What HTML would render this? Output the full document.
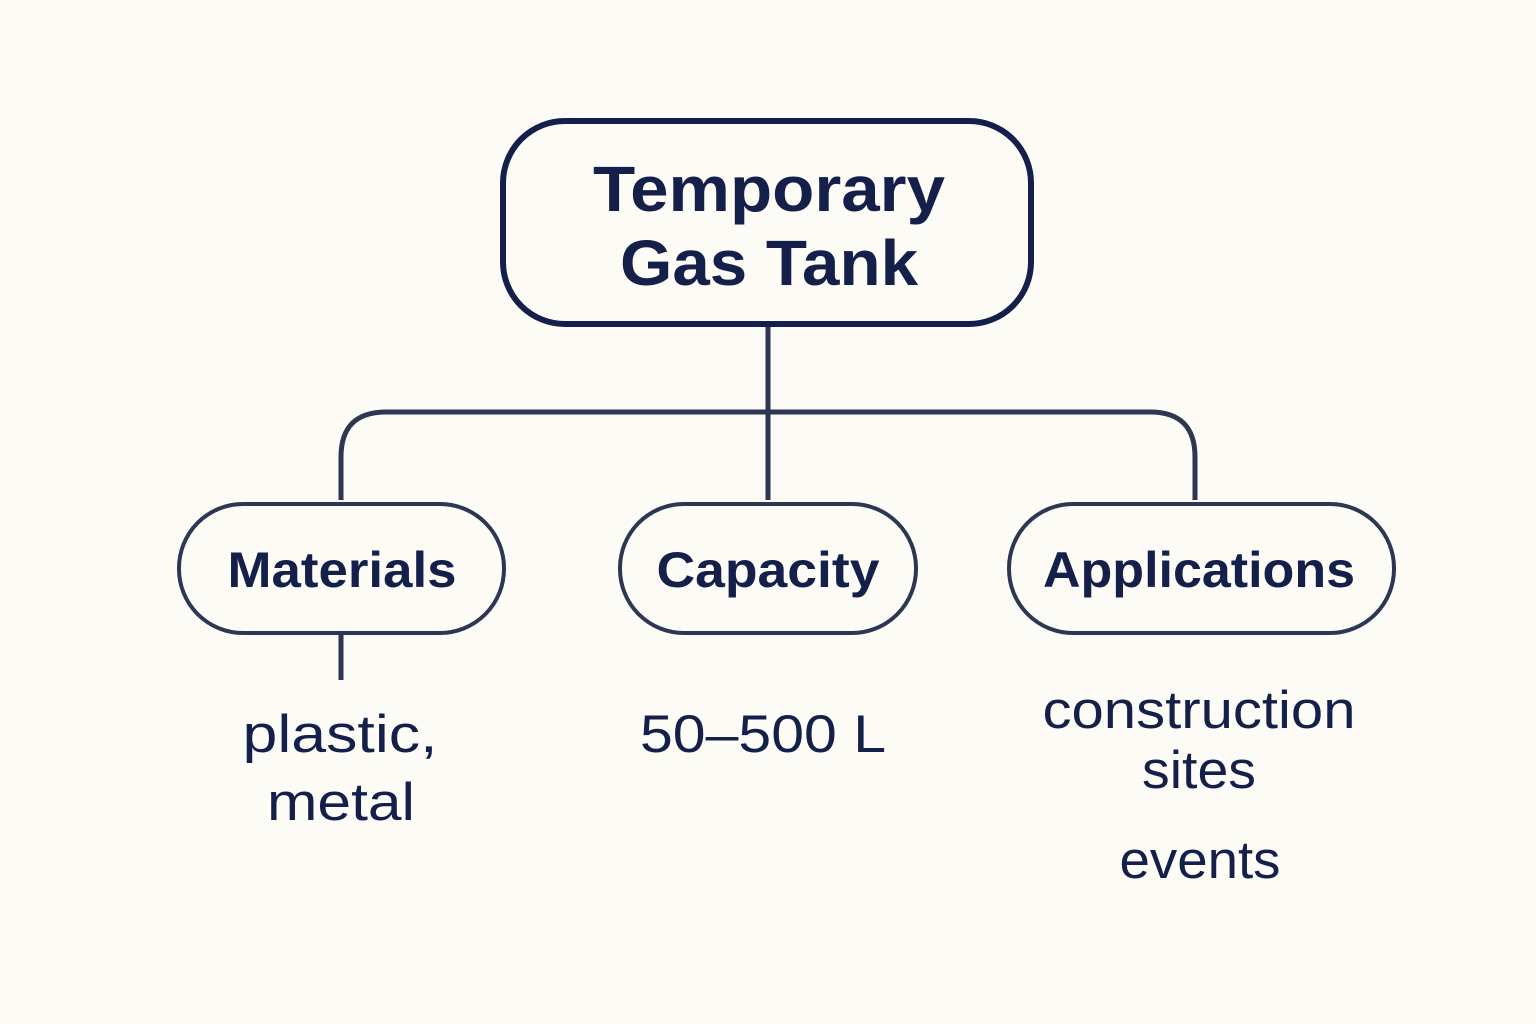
<!DOCTYPE html>
<html><head><meta charset="utf-8"><style>
html,body{margin:0;padding:0;background:#fcfbf6;}
svg{display:block}
text{font-family:"Liberation Sans","DejaVu Sans",sans-serif;fill:#141f4a;text-anchor:middle}
</style></head><body>
<svg width="1536" height="1024" viewBox="0 0 1536 1024" xmlns="http://www.w3.org/2000/svg">
<rect width="1536" height="1024" fill="#fcfbf6"/>
<g fill="none" stroke="#2d3652" stroke-width="5">
<path d="M768 325 V500"/>
<path d="M341 500 V457 Q341 412 386 412 H1150 Q1195 412 1195 457 V500"/>
<path d="M341 633 V680"/>
</g>
<rect x="503" y="121" width="528" height="203" rx="62" fill="#fcfbf6" stroke="#14204a" stroke-width="6"/>
<text x="769" y="211" font-size="64" font-weight="bold" textLength="352" lengthAdjust="spacingAndGlyphs">Temporary</text>
<text x="769" y="285" font-size="64" font-weight="bold" textLength="298" lengthAdjust="spacingAndGlyphs">Gas Tank</text>
<g fill="#fcfbf6" stroke="#2d3652" stroke-width="4">
<rect x="179" y="504" width="325" height="129" rx="64"/>
<rect x="620" y="504" width="296" height="129" rx="64"/>
<rect x="1009" y="504" width="385" height="129" rx="64"/>
</g>
<text x="342" y="587" font-size="50" font-weight="bold" textLength="229" lengthAdjust="spacingAndGlyphs">Materials</text>
<text x="768" y="587" font-size="50" font-weight="bold" textLength="223" lengthAdjust="spacingAndGlyphs">Capacity</text>
<text x="1199" y="587" font-size="50" font-weight="bold" textLength="312" lengthAdjust="spacingAndGlyphs">Applications</text>
<text x="340" y="752" font-size="53" textLength="195" lengthAdjust="spacingAndGlyphs">plastic,</text>
<text x="341" y="820" font-size="53" textLength="148" lengthAdjust="spacingAndGlyphs">metal</text>
<text x="763" y="752" font-size="53" textLength="246" lengthAdjust="spacingAndGlyphs">50–500 L</text>
<text x="1199" y="728" font-size="53" textLength="313" lengthAdjust="spacingAndGlyphs">construction</text>
<text x="1199" y="788" font-size="53" textLength="114" lengthAdjust="spacingAndGlyphs">sites</text>
<text x="1200" y="878" font-size="53" textLength="161" lengthAdjust="spacingAndGlyphs">events</text>
</svg>
</body></html>
